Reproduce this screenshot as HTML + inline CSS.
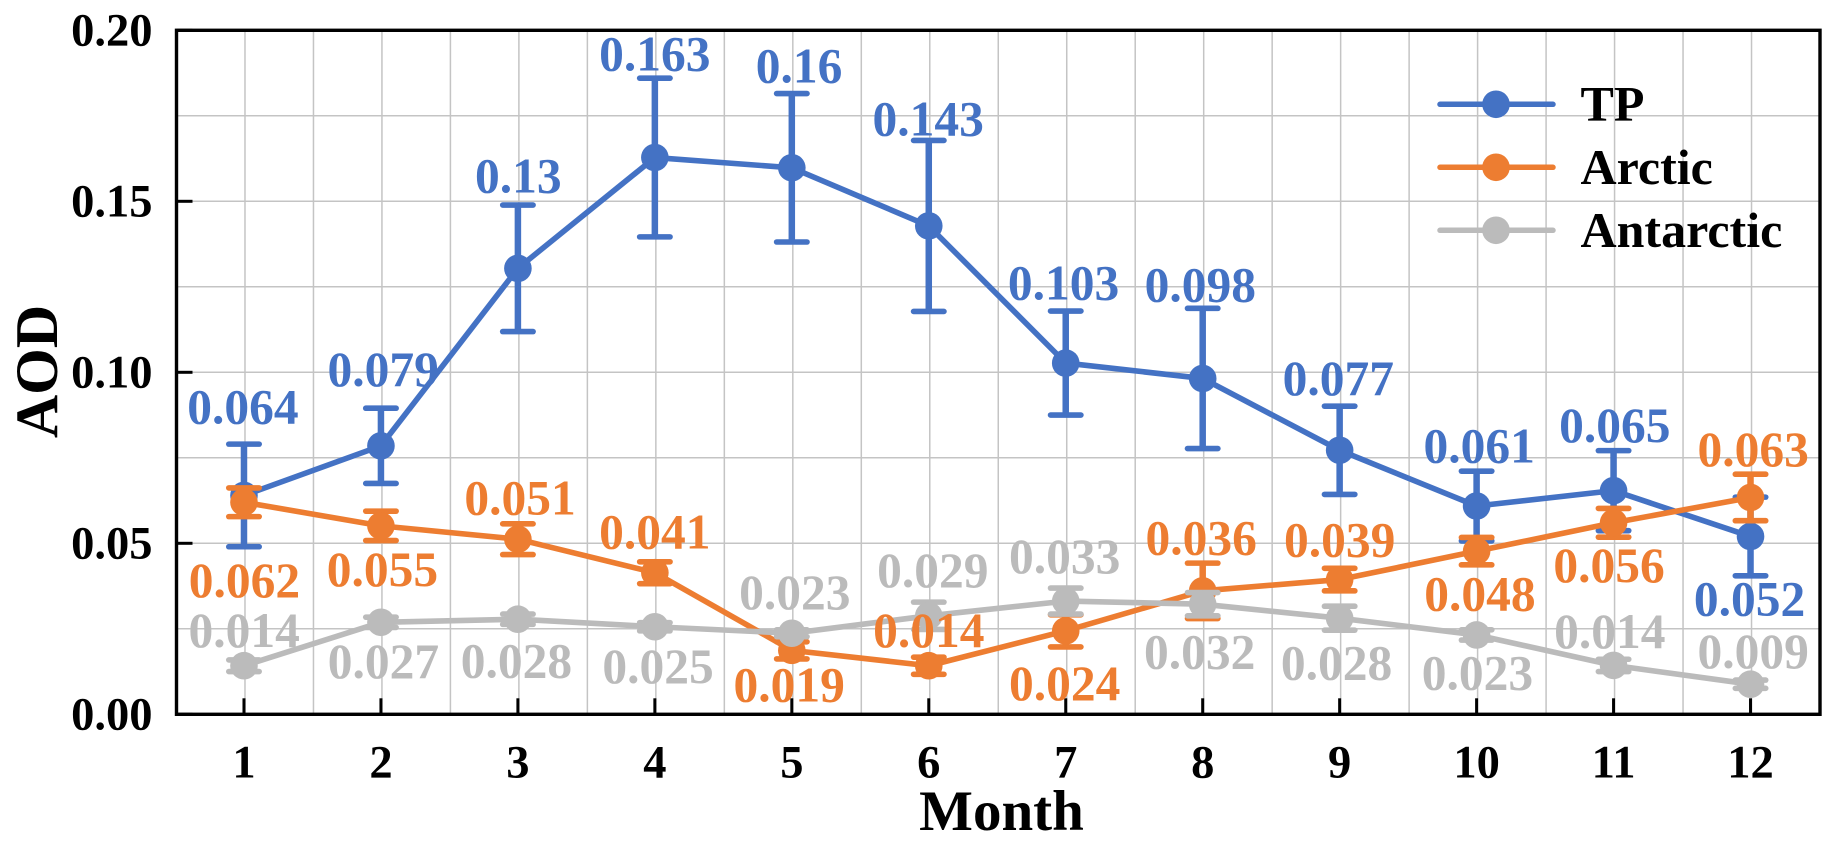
<!DOCTYPE html>
<html lang="en">
<head>
<meta charset="utf-8">
<title>Monthly AOD</title>
<style>
html,body{margin:0;padding:0;background:#fff;}
#chart{display:block;width:1838px;height:848px;font-family:"Liberation Serif","Times New Roman",serif;font-weight:bold;}
</style>
</head>
<body>
<svg id="chart" xmlns="http://www.w3.org/2000/svg" width="1838" height="848" viewBox="0 0 1838 848">
  <rect x="0" y="0" width="1838" height="848" fill="#ffffff"/>
  <g id="grid"></g>
  <g id="series"></g>
  <g id="legend">
    <g>
      <line x1="1440" y1="104.3" x2="1553" y2="104.3" stroke="#4472C4" stroke-width="5.5" stroke-linecap="round"/>
      <circle cx="1496" cy="104.3" r="13.8" fill="#4472C4"/>
      <text x="1580.5" y="120.7" font-size="50" fill="#000">TP</text>
    </g>
    <g>
      <line x1="1440" y1="167.3" x2="1553" y2="167.3" stroke="#ED7D31" stroke-width="5.5" stroke-linecap="round"/>
      <circle cx="1496" cy="167.3" r="13.8" fill="#ED7D31"/>
      <text x="1580.5" y="184" font-size="50" fill="#000">Arctic</text>
    </g>
    <g>
      <line x1="1440" y1="230.3" x2="1553" y2="230.3" stroke="#BBBBBB" stroke-width="5.5" stroke-linecap="round"/>
      <circle cx="1496" cy="230.3" r="13.8" fill="#BBBBBB"/>
      <text x="1580.5" y="247" font-size="50" fill="#000">Antarctic</text>
    </g>
  </g>
  <g id="axes"></g>
  <g id="labels"></g>
  <text x="1001.5" y="830" font-size="57" text-anchor="middle" fill="#000">Month</text>
  <text transform="translate(57 371.5) rotate(-90)" font-size="60" text-anchor="middle" fill="#000">AOD</text>
</svg>
<script>
const months = [1, 2, 3, 4, 5, 6, 7, 8, 9, 10, 11, 12];
const yTicks = [0, 0.05, 0.10, 0.15, 0.20];
const yTickLabels = ['0.00', '0.05', '0.10', '0.15', '0.20'];

const tpValues = [0.064, 0.0785, 0.1304, 0.1628, 0.1598, 0.1428, 0.1027, 0.0982, 0.0772, 0.0609, 0.0654, 0.052];
const tpErrors = [0.015, 0.011, 0.0185, 0.0232, 0.0217, 0.025, 0.0152, 0.0205, 0.0129, 0.0102, 0.0117, 0.0115];
const tpPrinted = ['0.064', '0.079', '0.13', '0.163', '0.16', '0.143', '0.103', '0.098', '0.077', '0.061', '0.065', '0.052'];

const arcticValues = [0.062, 0.0551, 0.0512, 0.0414, 0.0187, 0.0142, 0.0244, 0.0361, 0.0394, 0.0477, 0.056, 0.0634];
const arcticErrors = [0.0042, 0.0043, 0.0045, 0.0032, 0.0025, 0.0025, 0.0047, 0.0081, 0.0033, 0.004, 0.0042, 0.0068];
const arcticPrinted = ['0.062', '0.055', '0.051', '0.041', '0.019', '0.014', '0.024', '0.036', '0.039', '0.048', '0.056', '0.063'];

const antarcticValues = [0.0142, 0.0269, 0.0278, 0.0256, 0.0237, 0.0288, 0.0331, 0.0322, 0.0281, 0.0232, 0.0143, 0.0088];
const antarcticErrors = [0.0017, 0.0015, 0.0015, 0.0012, 0.001, 0.004, 0.0038, 0.0034, 0.0035, 0.0015, 0.0018, 0.0012];
const antarcticPrinted = ['0.014', '0.027', '0.028', '0.025', '0.023', '0.029', '0.033', '0.032', '0.028', '0.023', '0.014', '0.009'];

/* label nudges relative to each point (layout only, not data) */
const tpNudgeX = [-2, 1.3, -0.6, -1, 6.3, -1.6, -3.2, -3.4, -2.3, 1.6, 0.2, -2];
const tpNudgeY = [-72.1, -60.4, -76, -87.2, -85.5, -90.6, -63.8, -77.5, -55.6, -43.7, -48.9, 78.5];
const arcticNudgeX = [-0.6, 0.5, 1.2, -1, -3.6, -1, -2, -2.5, -1, 2.3, -5.5, 1.7];
const arcticNudgeY = [94.4, 59.8, -25, -24.4, 50.6, -19, 68.7, -36.8, -23.6, 59, 59, -31.7];
const antarcticNudgeX = [-0.8, 1.5, -2.4, 2.2, 2, 3.1, -2, -4, -4.1, -0.2, -4.8, 1.7];
const antarcticNudgeY = [-19, 55.4, 57.7, 56, -24.4, -29, -28.3, 63.7, 61, 54.3, -18, -16.7];

const NS = 'http://www.w3.org/2000/svg';
const plotLeft = 176.5, plotRight = 1820, plotTop = 30.3, plotBottom = 714.3;
const xScale = function (m) { return plotLeft + (m - 0.5) * (plotRight - plotLeft) / 12; };
const yScale = function (v) { return plotBottom - v * (plotBottom - plotTop) / 0.2; };

function make(parent, tag, attrs, text) {
  const el = document.createElementNS(NS, tag);
  for (const k in attrs) el.setAttribute(k, attrs[k]);
  if (text !== undefined) el.textContent = text;
  parent.appendChild(el);
  return el;
}

const gridG = document.getElementById('grid');
const axesG = document.getElementById('axes');
const seriesG = document.getElementById('series');
const labelsG = document.getElementById('labels');
const gridColor = '#C4C4C4';

/* vertical grid: major at each month, minor halfway */
months.forEach(function (m) {
  const major = make(gridG, 'line', { x1: xScale(m), x2: xScale(m), y1: plotTop, y2: plotBottom, stroke: gridColor, 'stroke-width': 1.5 });
  
  
  const minor = make(gridG, 'line', { x1: xScale(m + 0.5), x2: xScale(m + 0.5), y1: plotTop, y2: plotBottom, stroke: gridColor, 'stroke-width': 1.5 });
  
  
});
/* horizontal grid: major at each tick, minor halfway */
yTicks.forEach(function (t, i) {
  const major = make(gridG, 'line', { x1: plotLeft, x2: plotRight, y1: yScale(t), y2: yScale(t), stroke: gridColor, 'stroke-width': 1.5 });
  
  
  if (i < yTicks.length - 1) {
    const mid = (t + yTicks[i + 1]) / 2;
    const minor = make(gridG, 'line', { x1: plotLeft, x2: plotRight, y1: yScale(mid), y2: yScale(mid), stroke: gridColor, 'stroke-width': 1.5 });
    
    
  }
});

/* axes frame */
const frame = make(axesG, 'rect', { x: plotLeft, y: plotTop, width: plotRight - plotLeft, height: plotBottom - plotTop, fill: 'none', stroke: '#000', 'stroke-width': 3.4 });



months.forEach(function (m) {
  const tick = make(axesG, 'line', { x1: xScale(m) - 1, x2: xScale(m) - 1, y1: plotBottom, y2: plotBottom - 16, stroke: '#000', 'stroke-width': 3 });
  
  
  const label = make(axesG, 'text', { x: xScale(m) - 1, y: 777.6, 'font-size': 46.5, 'text-anchor': 'middle', fill: '#000' }, String(m));
  
  
});
yTicks.forEach(function (t, i) {
  const tick = make(axesG, 'line', { x1: plotLeft, x2: plotLeft + 16, y1: yScale(t), y2: yScale(t), stroke: '#000', 'stroke-width': 3 });
  
  
  const label = make(axesG, 'text', { x: 152.5, y: yScale(t) + 15.3, 'font-size': 46.5, 'text-anchor': 'end', fill: '#000' }, yTickLabels[i]);
  
  
});

function drawSeries(key, color, values, errors) {
  const g = make(seriesG, 'g', {});
  
  
  values.forEach(function (v, i) {
    const x = xScale(months[i]) - 1;
    const top = yScale(v + errors[i]);
    const bottom = yScale(v - errors[i]);
    const stem = make(g, 'line', { x1: x, x2: x, y1: top, y2: bottom, stroke: color, 'stroke-width': 6.5 });
    
    
    [top, bottom].forEach(function (cy) {
      const cap = make(g, 'line', { x1: x - 15.2, x2: x + 15.2, y1: cy, y2: cy, stroke: color, 'stroke-width': 5.6, 'stroke-linecap': 'round' });
      
      
    });
  });
  const pts = values.map(function (v, i) { return (xScale(months[i]) - 1) + ',' + yScale(v); }).join(' ');
  const line = make(g, 'polyline', { points: pts, fill: 'none', stroke: color, 'stroke-width': 5.6, 'stroke-linejoin': 'round' });
  
  
  values.forEach(function (v, i) {
    const dot = make(g, 'circle', { cx: xScale(months[i]) - 1, cy: yScale(v), r: 13.8, fill: color });
    
    
  });
}

function drawLabels(key, color, values, printed, nudgeX, nudgeY) {
  values.forEach(function (v, i) {
    const t = make(labelsG, 'text', { x: xScale(months[i]) + nudgeX[i], y: yScale(v) + nudgeY[i] + 0.4, 'font-size': 49.5, 'text-anchor': 'middle', fill: color }, printed[i]);
    
    
  });
}

drawSeries('tp', '#4472C4', tpValues, tpErrors);
drawSeries('arctic', '#ED7D31', arcticValues, arcticErrors);
drawSeries('antarctic', '#BBBBBB', antarcticValues, antarcticErrors);

drawLabels('tp', '#4472C4', tpValues, tpPrinted, tpNudgeX, tpNudgeY);
drawLabels('antarctic', '#BBBBBB', antarcticValues, antarcticPrinted, antarcticNudgeX, antarcticNudgeY);
drawLabels('arctic', '#ED7D31', arcticValues, arcticPrinted, arcticNudgeX, arcticNudgeY);
</script>
</body>
</html>
